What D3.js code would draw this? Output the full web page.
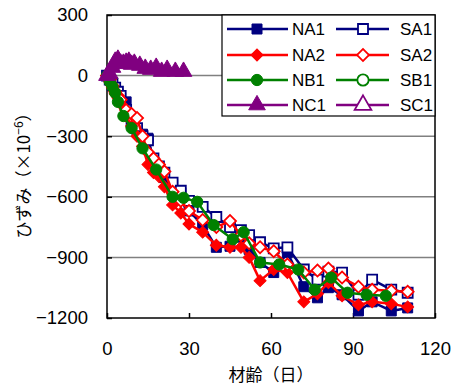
<!DOCTYPE html>
<html><head><meta charset="utf-8">
<script src="https://cdn.jsdelivr.net/npm/d3@7"></script>
<style>
html,body{margin:0;padding:0;background:#fff;}
svg{display:block;}
text{font-family:"Liberation Sans",Arial,sans-serif;}
.jp{font-family:"Noto Sans CJK JP","Liberation Sans",sans-serif;}
</style></head>
<body>
<svg id="c" width="454" height="388"></svg>
<script>
// ---- data ----
const daysA = [0,1,2,3,4,5,7,9,11,13,15,17,19,21,24,27,30,35,40,45,49,52,56,61,66,72,77,81,86,92,97,104,110];
const NA1 = [0,-20,-50,-70,-90,-110,-130,-220,-270,-290,-310,-420,-480,-505,-540,-580,-670,-740,-850,-845,-800,-860,-925,-975,-875,-1045,-1100,-1050,-1085,-1165,-1120,-1165,-1150];
const SA1 = [0,-20,-40,-60,-80,-100,-170,-230,-260,-300,-320,-410,-450,-480,-530,-570,-620,-650,-700,-750,-765,-790,-825,-855,-850,-960,-1010,-970,-975,-1085,-1010,-1060,-1075];
const NA2 = [0,-30,-60,-90,-110,-140,-200,-250,-300,-350,-440,-480,-500,-550,-640,-680,-735,-775,-840,-850,-850,-900,-1015,-960,-975,-1120,-1080,-1025,-1090,-1135,-1120,-1130,-1145];
const SA2 = [0,-20,-50,-80,-100,-120,-170,-190,-210,-300,-380,-410,-440,-475,-575,-620,-670,-715,-750,-720,-790,-830,-850,-870,-935,-975,-965,-955,-1000,-1045,-1060,-1065,-1070];
const daysB = [0,1,2,3,4,6,9,13,18,24,28,33,39,46,50,56,63,70,76,82,88,95,102];
const NB1 = [0,-30,-55,-85,-130,-200,-260,-360,-465,-600,-605,-625,-740,-810,-775,-925,-935,-960,-1060,-1000,-1075,-1085,-1090];
const SB1 = [];
const daysC = [0,1,2,3,4,5,6,7,8,9,10,12,14,16,18,20,22,25,28];
const NC1 = [0,10,40,70,80,60,60,65,70,55,60,50,35,30,40,20,30,20,20];
const SC1 = [];
const xTicks = [0,30,60,90,120];
const yTicks = [-1200,-900,-600,-300,0,300];
const gridVals = [-900,-600,-300,0];

const series = [
  {name:"NA1", days:daysA, vals:NA1, color:"#000080", shape:"square", fill:true},
  {name:"SA1", days:daysA, vals:SA1, color:"#000080", shape:"square", fill:false},
  {name:"NA2", days:daysA, vals:NA2, color:"#FF0000", shape:"diamond", fill:true},
  {name:"SA2", days:daysA, vals:SA2, color:"#FF0000", shape:"diamond", fill:false},
  {name:"NB1", days:daysB, vals:NB1, color:"#008000", shape:"circle", fill:true},
  {name:"SB1", days:daysB, vals:SB1, color:"#008000", shape:"circle", fill:false},
  {name:"NC1", days:daysC, vals:NC1, color:"#800080", shape:"triangle", fill:true},
  {name:"SC1", days:daysC, vals:SC1, color:"#800080", shape:"triangle", fill:false}
];

const svg = d3.select("#c");
const L=107,R=435,T=15,B=318;
const x = d3.scaleLinear().domain([0,120]).range([L,R]);
const y = d3.scaleLinear().domain([-1200,300]).range([B,T]);
const fmt = d => d<0 ? "\u2212"+Math.abs(d) : String(d);

// gridlines
svg.append("g").selectAll("line").data(gridVals).join("line")
  .attr("x1",L).attr("x2",R).attr("y1",d=>y(d)).attr("y2",d=>y(d))
  .attr("stroke","#808080").attr("stroke-width",1.5);

// axes
const yAxis = svg.append("g").attr("transform",`translate(${L},0)`)
  .call(d3.axisLeft(y).tickValues(yTicks).tickFormat(fmt).tickSize(-5).tickPadding(19));
const xAxis = svg.append("g").attr("transform",`translate(0,${B})`)
  .call(d3.axisBottom(x).tickValues(xTicks).tickFormat(fmt).tickSize(-5).tickPadding(24));
[yAxis,xAxis].forEach(g=>{
  g.select(".domain").remove();
  g.selectAll(".tick line").attr("stroke","#000").attr("stroke-width",1.5);
  g.selectAll("text").attr("font-size",18.5).attr("fill","#000")
   .attr("font-family","'Liberation Sans',Arial,sans-serif");
});

// frame
svg.append("rect").attr("x",L).attr("y",T).attr("width",R-L).attr("height",B-T)
  .attr("fill","none").attr("stroke","#000").attr("stroke-width",1.5);

function sym(shape){
  if(shape==="square") return d3.symbol().type(d3.symbolSquare).size(100)();
  if(shape==="diamond") return d3.symbol().type(d3.symbolSquare).size(72)();
  if(shape==="circle") return d3.symbol().type(d3.symbolCircle).size(100)();
  return d3.symbol().type(d3.symbolTriangle).size(120)();
}
function rot(shape){return shape==="diamond"?" rotate(45)":"";}

const line = d3.line().x(d=>x(d[0])).y(d=>y(d[1]));
const plot = svg.append("g");
series.forEach(s=>{
  const pts = s.vals.map((v,i)=>[s.days[i],v]);
  const g = plot.append("g");
  g.append("path").datum(pts).attr("d",line).attr("fill","none")
    .attr("stroke",s.color).attr("stroke-width",2.5).attr("stroke-linejoin","round");
  g.selectAll("path.m").data(pts).join("path").attr("class","m")
    .attr("d",sym(s.shape))
    .attr("transform",d=>`translate(${x(d[0])},${y(d[1])})${rot(s.shape)}`)
    .attr("fill",s.fill?s.color:"#fff").attr("stroke",s.color).attr("stroke-width",s.fill?1:1.8);
});

// legend
const lg = svg.append("g");
lg.append("rect").attr("x",222).attr("y",T).attr("width",R-222).attr("height",101)
  .attr("fill","#fff").attr("stroke","#000").attr("stroke-width",1.2);
const rowY=[29,55,80,105];
series.forEach((s,i)=>{
  const col=i%2,row=Math.floor(i/2);
  const x0 = col===0?227:336, x1 = col===0?288:389, mx=col===0?257:363, tx=col===0?292:400;
  const yy=rowY[row];
  lg.append("line").attr("x1",x0).attr("x2",x1).attr("y1",yy).attr("y2",yy)
    .attr("stroke",s.color).attr("stroke-width",2.5);
  lg.append("path").attr("d",sym(s.shape)).attr("transform",`translate(${mx},${yy})${rot(s.shape)}`)
    .attr("fill",s.fill?s.color:"#fff").attr("stroke",s.color).attr("stroke-width",s.fill?1:1.8);
  lg.append("text").attr("x",tx).attr("y",yy+6).attr("font-size",17).text(s.name);
});

// axis titles
svg.append("text").attr("class","jp").attr("x",(L+R)/2).attr("y",381)
  .attr("text-anchor","middle").attr("font-size",17).text("材齢（日）");
const yt = svg.append("text").attr("class","jp").attr("transform",`translate(30,${(T+B)/2+5}) rotate(-90)`)
  .attr("text-anchor","middle").attr("font-size",17);
yt.append("tspan").text("ひずみ（×10");
yt.append("tspan").attr("dy",-7).attr("font-size",12).text("−6");
yt.append("tspan").attr("dy",7).text("）");
</script>
</body></html>
